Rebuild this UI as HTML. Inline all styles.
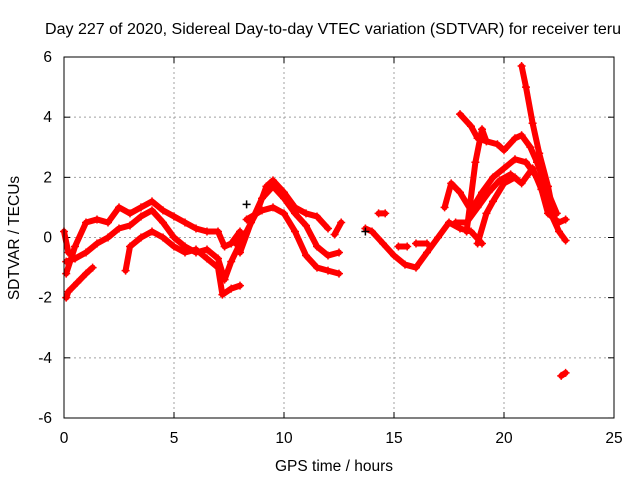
<!DOCTYPE html>
<html><head><meta charset="utf-8"><style>
body{margin:0;background:#fff}
svg{display:block;font-family:"Liberation Sans",sans-serif}
</style></head><body>
<svg id="chart" width="640" height="480">
<text x="333" y="34" font-size="16" text-anchor="middle" textLength="576" lengthAdjust="spacingAndGlyphs">Day 227 of 2020, Sidereal Day-to-day VTEC variation (SDTVAR) for receiver teru</text>
<text x="334" y="471" font-size="15.5" text-anchor="middle">GPS time / hours</text>
<text transform="translate(19,238) rotate(-90)" font-size="15.5" text-anchor="middle">SDTVAR / TECUs</text>
<g id="grid"></g><g id="ticks"></g><g id="series"></g>
<rect x="64" y="57" width="550" height="361" fill="none" stroke="#000" stroke-width="1"/>
</svg>
<script>
const xTicks=[0,5,10,15,20,25];
const yTicks=[-6,-4,-2,0,2,4,6];
const s1=[[0.1,-1.2],[0.5,-0.3],[1,0.5],[1.5,0.6],[2,0.5],[2.5,1.0],[3,0.8],[3.5,1.0],[4,1.2],[4.5,0.9],[5,0.7],[5.5,0.5],[6,0.3],[6.5,0.2],[7,0.2],[7.3,-0.3],[7.6,-0.2],[8,0.2]];
const s2=[[0.1,-0.8],[0.5,-0.7],[1,-0.5],[1.5,-0.2],[2,0],[2.5,0.3],[3,0.4],[3.5,0.7],[4,0.9],[4.5,0.5],[5,0],[5.5,-0.3],[6,-0.5],[6.5,-0.4],[7,-0.7],[7.3,-1.4],[7.6,-0.8],[8,-0.2]];
const s3=[[0.1,-2.0],[0.2,-1.8],[0.6,-1.5],[1,-1.2],[1.3,-1.0]];
const s4=[[2.8,-1.1],[3,-0.3],[3.5,0],[4,0.2],[4.5,0],[5,-0.3],[5.5,-0.5],[6,-0.4],[6.5,-0.7],[7,-1.0],[7.2,-1.9],[7.6,-1.7],[8,-1.6]];
const s5=[[0,0.2],[0.2,-0.5],[0.5,-0.7]];
const m1=[[7.8,-0.2],[8.3,0.2],[8.8,0.9],[9.2,1.7],[9.5,1.9],[10,1.5],[10.5,1.0],[11,0.8],[11.5,0.7],[12,0.3]];
const m2=[[8,-0.5],[8.5,0.5],[9,1.3],[9.5,1.7],[10,1.3],[10.5,0.8],[11,0.4],[11.5,-0.3],[12,-0.6],[12.5,-0.5]];
const m3=[[8.3,0.6],[9,0.9],[9.5,1.0],[10,0.8],[10.5,0.2],[11,-0.6],[11.5,-1.0],[12,-1.1],[12.5,-1.2]];
const m4=[[12.3,0.1],[12.6,0.5]];
const r1=[[13.7,0.3],[14,0.2],[14.5,-0.2],[15,-0.6],[15.5,-0.9],[16,-1.0],[16.5,-0.5],[17,0],[17.5,0.5],[18,0.3],[18.5,0.2],[19,-0.2]];
const r2=[[14.3,0.8],[14.6,0.8]];
const r3=[[15.2,-0.3],[15.6,-0.3]];
const r4=[[16,-0.2],[16.5,-0.2]];
const r5=[[17.3,1.0],[17.6,1.8],[18,1.5],[18.5,0.9],[19,1.5],[19.5,2.0],[20,2.3],[20.5,2.6],[21,2.5],[21.5,2.0],[22,1.0],[22.5,0.2],[22.8,-0.1]];
const r6=[[17.8,0.5],[18.3,0.5],[18.8,1.0],[19.3,1.5],[19.8,1.9],[20.3,2.1],[20.8,1.8],[21.3,2.3],[21.7,1.6],[22,0.8],[22.5,0.5],[22.8,0.6]];
const r7=[[18,4.1],[18.5,3.7],[18.8,3.3],[19.2,3.2],[19.7,3.1],[20,2.9],[20.5,3.3],[20.8,3.4],[21.2,3.0],[21.5,2.5],[22,1.5],[22.4,0.8]];
const r8=[[20.8,5.7],[21,5.0],[21.3,3.8],[21.6,2.8],[22,1.7],[22.3,0.6]];
const r9=[[18.3,0.2],[18.7,2.5],[19,3.6],[19.2,3.2]];
const r10=[[18.8,-0.2],[19.2,0.8],[19.5,1.2],[20,1.8],[20.5,2.0]];
const r11=[[22.6,-4.6],[22.8,-4.5]];
const seriesList=[s1,s2,s3,s4,s5,m1,m2,m3,m4,r1,r2,r3,r4,r5,r6,r7,r8,r9,r10,r11];
const blackPts=[[8.3,1.1],[13.7,0.2]];

const NS="http://www.w3.org/2000/svg";
const X=v=>64+v*22, Y=v=>237.5-v*30.08;
function mk(t,a,p){const e=document.createElementNS(NS,t);for(const k in a)e.setAttribute(k,a[k]);p.appendChild(e);return e;}
const grid=document.getElementById('grid'),ticks=document.getElementById('ticks'),ser=document.getElementById('series');
xTicks.forEach(t=>{
  if(t>0&&t<25){const l=mk('line',{x1:X(t),x2:X(t),y1:57,y2:418,stroke:'#a0a0a0','stroke-dasharray':'2,3'},grid);
  
  }
  mk('line',{x1:X(t),x2:X(t),y1:418,y2:412,stroke:'#000'},ticks);
  mk('line',{x1:X(t),x2:X(t),y1:57,y2:63,stroke:'#000'},ticks);
  const tx=mk('text',{x:X(t),y:443,'font-size':15.5,'text-anchor':'middle'},ticks);tx.textContent=t;
  
  
});
yTicks.forEach(t=>{
  if(t>-6&&t<6){const l=mk('line',{x1:64,x2:614,y1:Y(t),y2:Y(t),stroke:'#a0a0a0','stroke-dasharray':'2,3'},grid);
  
  }
  mk('line',{x1:64,x2:70,y1:Y(t),y2:Y(t),stroke:'#000'},ticks);
  mk('line',{x1:614,x2:608,y1:Y(t),y2:Y(t),stroke:'#000'},ticks);
  const tx=mk('text',{x:52,y:Y(t)+5,'font-size':15.5,'text-anchor':'end'},ticks);tx.textContent=t;
  
  
});
function plus(x,y,c,p){mk('path',{d:`M${x-4},${y}h8M${x},${y-4}v8`,stroke:c,'stroke-width':1.5},p);}
seriesList.forEach(s=>{
  const g=mk('g',{},ser);
  
  
  mk('polyline',{points:s.map(p=>X(p[0])+','+Y(p[1])).join(' '),fill:'none',stroke:'#f00','stroke-width':6,'stroke-linejoin':'round','stroke-linecap':'round'},g);
  s.forEach(p=>plus(X(p[0]),Y(p[1]),'#f00',g));
});
blackPts.forEach(p=>{const g=mk('g',{},ser);
  
  
  plus(X(p[0]),Y(p[1]),'#000',g);});
</script>
</body></html>
